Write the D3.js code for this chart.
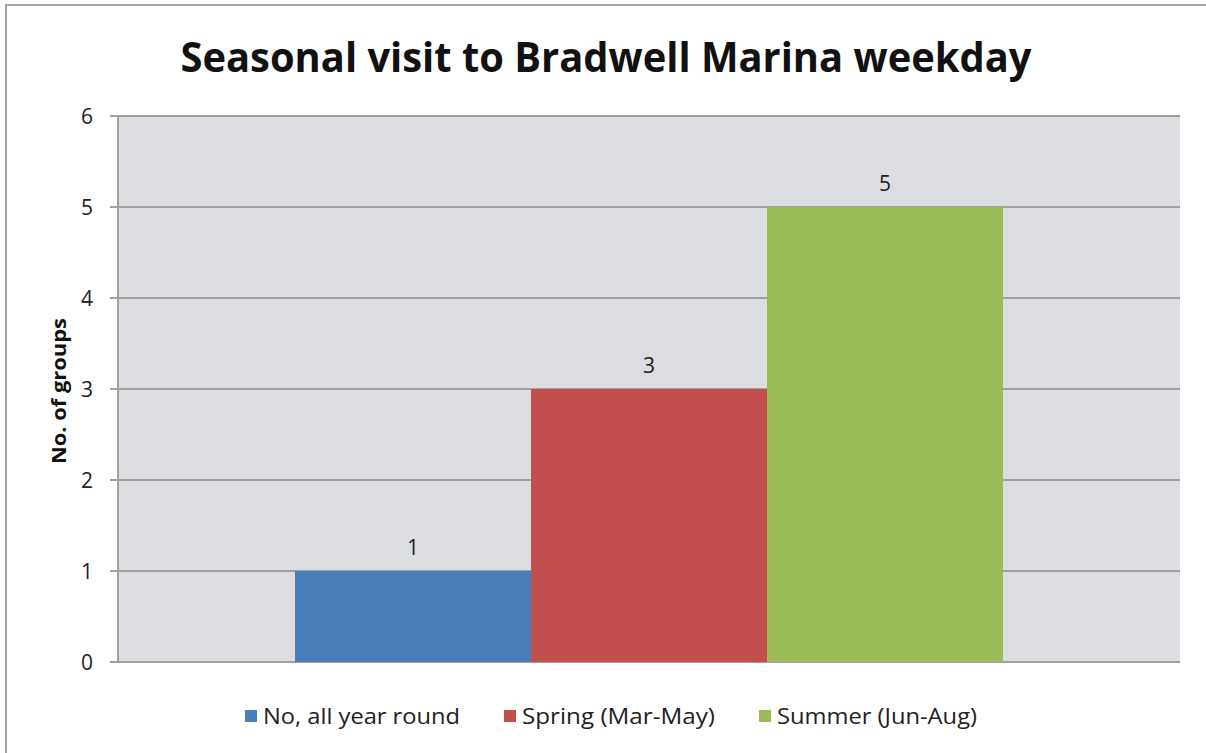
<!DOCTYPE html>
<html><head><meta charset="utf-8">
<script src="https://cdn.jsdelivr.net/npm/d3@7"></script>
<style>body{margin:0;background:#fff}svg{display:block}</style>
</head><body><svg id="c" width="1206" height="753"></svg>
<script>
const categories = ["No, all year round", "Spring (Mar-May)", "Summer (Jun-Aug)"];
const values = [1, 3, 5];
const colors = ["#4a7ebb", "#c4504d", "#9bbb59"];
const yTicks = [0, 1, 2, 3, 4, 5, 6];
const title = "Seasonal visit to Bradwell Marina weekday";
const yLabel = "No. of groups";

const svg = d3.select("#c");
const font = "'Open Sans', 'Liberation Sans', sans-serif";
const m = {left: 118, top: 116, right: 1180, bottom: 662};

// outer border
svg.append("path").attr("d", "M6,753 V5 H1206").attr("fill", "none").attr("stroke", "#a6a6a6").attr("stroke-width", 2);

const y = d3.scaleLinear().domain([0, 6]).range([m.bottom, m.top]);
const x0 = d3.scaleBand().domain(["g"]).range([m.left, m.right]).paddingInner(0).paddingOuter(0.25);
const x1 = d3.scaleBand().domain(categories).range([x0("g"), x0("g") + x0.bandwidth()]).padding(0);

// plot area bg
svg.append("rect").attr("x", m.left).attr("y", m.top).attr("width", m.right - m.left).attr("height", m.bottom - m.top).attr("fill", "#dcdde0");

// gridlines
svg.append("g").selectAll("line").data(yTicks).join("line")
  .attr("x1", m.left - 8).attr("x2", m.right).attr("y1", d => y(d)).attr("y2", d => y(d))
  .attr("stroke", "#a0a0a0").attr("stroke-width", 2);
svg.append("line").attr("x1", m.left).attr("x2", m.left).attr("y1", m.top).attr("y2", m.bottom).attr("stroke", "#a0a0a0").attr("stroke-width", 2);

// y tick labels
svg.append("g").selectAll("text").data(yTicks).join("text")
  .attr("x", 93).attr("y", d => y(d)).attr("dy", "0.36em").attr("text-anchor", "end")
  .attr("font-family", font).attr("font-size", 21).attr("fill", "#222").text(d => d);

// bars
svg.append("g").selectAll("rect").data(values).join("rect")
  .attr("x", (d, i) => x1(categories[i])).attr("width", x1.bandwidth())
  .attr("y", d => y(d)).attr("height", d => y(0) - y(d))
  .attr("fill", (d, i) => colors[i]);

// data labels
svg.append("g").selectAll("text").data(values).join("text")
  .attr("x", (d, i) => x1(categories[i]) + x1.bandwidth() / 2).attr("y", d => y(d) - 24)
  .attr("dy", "0.36em")
  .attr("text-anchor", "middle").attr("font-family", font).attr("font-size", 21).attr("fill", "#222").text(d => d);

// title
svg.append("text").attr("x", 606).attr("y", 72).attr("text-anchor", "middle")
  .attr("font-family", font).attr("font-weight", "bold").attr("font-size", 41).attr("fill", "#111")
  .attr("textLength", 851).attr("lengthAdjust", "spacingAndGlyphs").text(title);

// y label
svg.append("text").attr("transform", "translate(66,391) rotate(-90)").attr("text-anchor", "middle")
  .attr("font-family", font).attr("font-weight", "bold").attr("font-size", 20).attr("fill", "#111")
  .attr("textLength", 146).attr("lengthAdjust", "spacingAndGlyphs").text(yLabel);

// legend
const legX = [245, 504, 759];
const legW = [197, 193, 200];
const lg = svg.append("g").selectAll("g").data(categories).join("g").attr("transform", (d, i) => `translate(${legX[i]},716)`);
lg.append("rect").attr("x", 0).attr("y", -6).attr("width", 12).attr("height", 12).attr("fill", (d, i) => colors[i]);
lg.append("text").attr("x", 18).attr("y", 0).attr("dy", "0.36em").attr("font-family", font).attr("font-size", 22).attr("fill", "#222")
  .attr("textLength", (d, i) => legW[i]).attr("lengthAdjust", "spacingAndGlyphs").text(d => d);
</script></body></html>
